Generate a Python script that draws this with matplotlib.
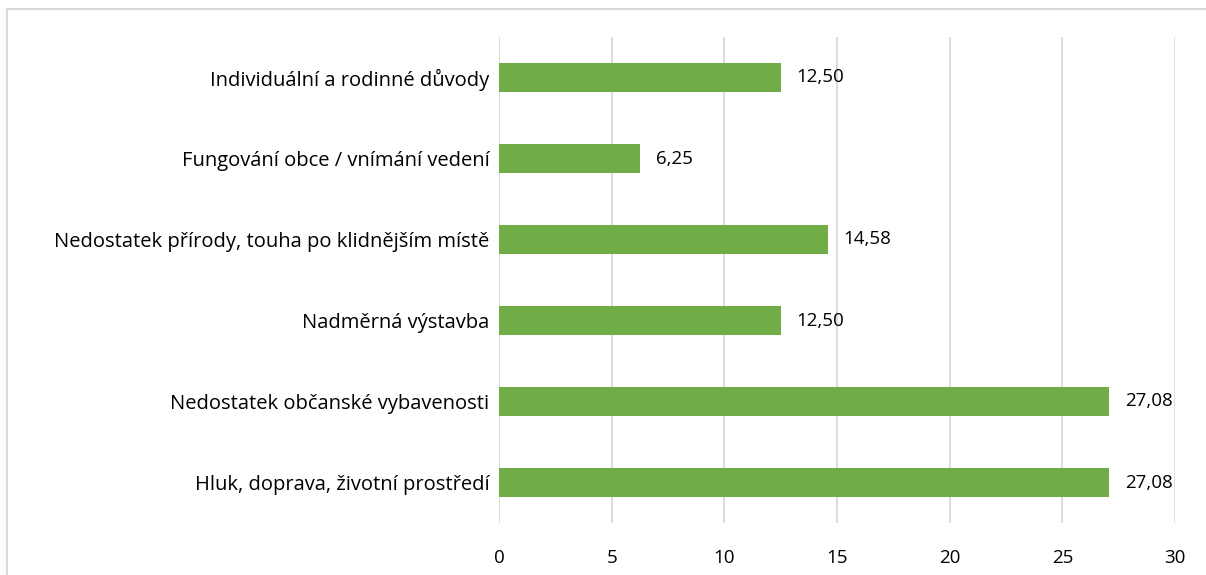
import matplotlib
matplotlib.use("Agg")
import matplotlib.pyplot as plt
from matplotlib.patches import Rectangle

# categories listed bottom -> top, as drawn
categories = [
    "Hluk, doprava, životní prostředí",
    "Nedostatek občanské vybavenosti",
    "Nadměrná výstavba",
    "Nedostatek přírody, touha po klidnějším místě",
    "Fungování obce / vnímání vedení",
    "Individuální a rodinné důvody",
]
values = [27.08, 27.08, 12.50, 14.58, 6.25, 12.50]
xticks = [0, 5, 10, 15, 20, 25, 30]

W, H = 1206, 575
fig = plt.figure(figsize=(W / 100, H / 100), dpi=100)
plt.rcParams["font.family"] = ["Open Sans", "DejaVu Sans"]
FS = 13.5

# outer chart frame (only left/top edges visible in the crop)
fig.patches.append(Rectangle((7 / W, -0.1), 1.2, 1 - 9 / H + 0.1,
                             transform=fig.transFigure, fill=False,
                             edgecolor="#d9d9d9", lw=1.5))

ax = fig.add_axes([499 / W, 1 - 523 / H, (1175 - 499) / W, (523 - 37) / H])
y = range(len(categories))
ax.barh(y, values, height=0.36, color="#70ad47", zorder=3)

for yi, v in zip(y, values):
    ax.text(v + 0.7, yi, f"{v:.2f}".replace(".", ","), va="center",
            ha="left", fontsize=FS, color="#000000")

ax.set_xlim(0, 30)
ax.set_ylim(-0.5, len(categories) - 0.5)
ax.set_xticks(xticks)
ax.set_xticklabels([str(t) for t in xticks], fontsize=FS)
ax.set_yticks(list(y))
ax.set_yticklabels(categories, fontsize=14.5)
ax.tick_params(axis="x", length=0, pad=19)
ax.tick_params(axis="y", length=0, pad=7)
ax.grid(axis="x", color="#d9d9d9", lw=1.3, zorder=0)
for s in ax.spines.values():
    s.set_visible(False)

fig.savefig("out.png", dpi=100)
